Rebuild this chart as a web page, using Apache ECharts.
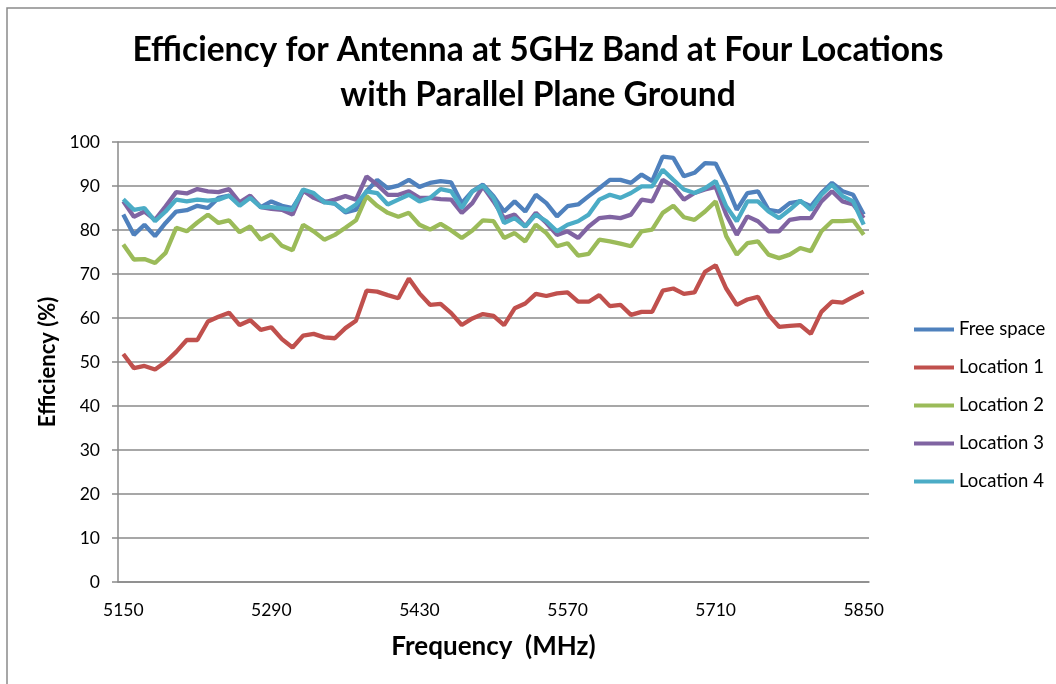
<!DOCTYPE html>
<html>
<head>
<meta charset="utf-8">
<script src="https://cdn.jsdelivr.net/npm/echarts@6/dist/echarts.min.js"></script>
<style>
  html, body { margin: 0; padding: 0; background: #fff; }
  #chart { width: 1056px; height: 684px; }
</style>
</head>
<body>
<div id="chart"></div>
<script>
// frequency categories (MHz)
var frequencies = ['5150','5160','5170','5180','5190','5200','5210','5220','5230','5240',
  '5250','5260','5270','5280','5290','5300','5310','5320','5330','5340',
  '5350','5360','5370','5380','5390','5400','5410','5420','5430','5440',
  '5450','5460','5470','5480','5490','5500','5510','5520','5530','5540',
  '5550','5560','5570','5580','5590','5600','5610','5620','5630','5640',
  '5650','5660','5670','5680','5690','5700','5710','5720','5730','5740',
  '5750','5760','5770','5780','5790','5800','5810','5820','5830','5840','5850'];

var freeSpace = [83.5, 78.9, 81.2, 78.6, 81.6, 84.2, 84.5, 85.5, 85.0, 87.3,
  87.8, 86.0, 87.5, 85.2, 86.5, 85.5, 85.0, 88.8, 88.0, 86.5,
  86.0, 84.0, 84.6, 88.8, 91.4, 89.5, 90.1, 91.4, 89.8, 90.7,
  91.1, 90.8, 86.1, 88.8, 90.3, 87.7, 84.2, 86.5, 84.2, 88.0,
  86.1, 83.1, 85.4, 85.8, 87.7, 89.5, 91.4, 91.4, 90.7, 92.6,
  91.1, 96.7, 96.4, 92.2, 93.0, 95.2, 95.1, 90.3, 84.6, 88.4,
  88.8, 84.6, 84.2, 86.1, 86.5, 85.4, 88.4, 90.7, 88.8, 88.0, 83.5];

var location1 = [51.8, 48.6, 49.1, 48.3, 50.0, 52.3, 55.0, 55.0, 59.2, 60.3,
  61.2, 58.4, 59.5, 57.3, 57.9, 55.2, 53.3, 56.0, 56.4, 55.6,
  55.4, 57.7, 59.4, 66.2, 66.0, 65.2, 64.5, 69.0, 65.6, 63.0,
  63.2, 61.1, 58.4, 59.9, 60.9, 60.5, 58.4, 62.2, 63.3, 65.5,
  65.0, 65.6, 65.8, 63.7, 63.7, 65.2, 62.7, 63.0, 60.7, 61.4,
  61.4, 66.2, 66.7, 65.5, 65.8, 70.5, 72.0, 66.7, 63.0, 64.2,
  64.8, 60.7, 58.0, 58.2, 58.4, 56.4, 61.4, 63.7, 63.5, 64.8, 66.0];

var location2 = [76.7, 73.3, 73.4, 72.5, 74.8, 80.5, 79.7, 81.7, 83.5, 81.6,
  82.2, 79.5, 80.8, 77.8, 79.0, 76.4, 75.4, 81.2, 79.7, 77.8,
  78.9, 80.5, 82.2, 87.7, 85.5, 83.9, 83.0, 83.9, 81.2, 80.1,
  81.4, 79.9, 78.2, 79.9, 82.2, 82.0, 78.2, 79.3, 77.4, 81.2,
  79.3, 76.3, 77.0, 74.2, 74.6, 77.8, 77.4, 76.9, 76.3, 79.7,
  80.1, 83.9, 85.5, 82.9, 82.3, 84.2, 86.5, 78.6, 74.4, 77.0,
  77.4, 74.4, 73.6, 74.4, 75.9, 75.2, 79.7, 82.0, 82.0, 82.2, 78.9];

var location3 = [86.5, 83.0, 84.2, 82.3, 85.4, 88.6, 88.3, 89.3, 88.8, 88.6,
  89.3, 86.3, 87.8, 85.2, 84.8, 84.6, 83.5, 89.0, 87.3, 86.3,
  86.9, 87.7, 86.9, 92.2, 90.3, 88.0, 88.0, 88.8, 87.3, 87.3,
  87.0, 86.9, 83.9, 86.1, 89.9, 86.5, 82.7, 83.5, 80.8, 83.9,
  81.6, 78.9, 79.7, 78.2, 80.8, 82.7, 83.0, 82.7, 83.5, 86.9,
  86.5, 91.4, 89.9, 86.9, 88.4, 89.2, 89.8, 83.5, 78.9, 83.1,
  82.0, 79.7, 79.7, 82.3, 82.7, 82.7, 86.5, 88.8, 86.5, 85.8, 82.7];

var location4 = [87.0, 84.6, 85.0, 82.0, 84.2, 86.9, 86.5, 86.9, 86.7, 86.9,
  87.8, 85.5, 87.3, 85.2, 85.2, 84.9, 84.6, 89.2, 88.4, 86.3,
  86.0, 84.2, 85.8, 88.8, 88.4, 85.8, 86.9, 88.0, 86.5, 87.3,
  89.3, 88.8, 85.0, 88.8, 90.1, 87.3, 81.6, 82.7, 80.8, 83.5,
  82.0, 79.7, 81.2, 82.0, 83.5, 86.9, 88.0, 87.3, 88.4, 89.9,
  89.9, 93.7, 91.4, 89.2, 88.4, 89.5, 91.1, 85.4, 82.0, 86.5,
  86.5, 84.2, 82.7, 84.6, 86.7, 84.6, 88.0, 90.3, 87.7, 86.5, 81.2];

var seriesNames = ['Free space', 'Location 1', 'Location 2', 'Location 3', 'Location 4'];
var seriesColors = ['#4F81BD', '#C0504D', '#9BBB59', '#8064A2', '#4BACC6'];
var seriesValues = [freeSpace, location1, location2, location3, location4];

var font = 'Lato, "Open Sans", sans-serif';

var series = [];
seriesNames.forEach(function (name, i) {
  series.push({
    name: name,
    type: 'line',
    data: seriesValues[i],
    symbol: 'none',
    smooth: false,
    lineStyle: { width: 4.3, color: seriesColors[i] },
    itemStyle: { color: seriesColors[i] },
    animation: false
  });
});

var myChart = echarts.init(document.getElementById('chart'), null, { renderer: 'canvas' });
myChart.setOption({
  animation: false,
  backgroundColor: '#fff',
  title: {
    text: 'Efficiency for Antenna at 5GHz Band at Four Locations\nwith Parallel Plane Ground',
    left: 533,
    top: 23,
    textAlign: 'center',
    textStyle: {
      fontFamily: font,
      fontWeight: 'bold',
      fontSize: 33.5,
      lineHeight: 45,
      color: '#000'
    }
  },
  graphic: [{
    type: 'rect',
    shape: { x: 7, y: 8, width: 1200, height: 800 },
    style: { fill: 'none', stroke: '#8a8a8a', lineWidth: 1.5 },
    silent: true,
    z: -1
  }],
  legend: {
    orient: 'vertical',
    left: 909,
    top: 315,
    itemWidth: 40,
    itemHeight: 4,
    itemGap: 19,
    icon: 'rect',
    data: seriesNames,
    textStyle: { fontFamily: font, fontSize: 18.5, color: '#000' }
  },
  grid: {
    left: 118,
    right: 187,
    top: 142,
    bottom: 102
  },
  xAxis: {
    type: 'category',
    data: frequencies,
    boundaryGap: true,
    name: 'Frequency  (MHz)',
    nameLocation: 'middle',
    nameGap: 52,
    nameTextStyle: { fontFamily: font, fontWeight: 'bold', fontSize: 26, color: '#000' },
    axisLine: { lineStyle: { color: '#8a8a8a', width: 1.5 } },
    axisTick: { show: false },
    axisLabel: {
      interval: 13,
      margin: 19,
      fontFamily: font,
      fontSize: 17.5,
      color: '#000'
    },
    splitLine: { show: false }
  },
  yAxis: {
    type: 'value',
    min: 0,
    max: 100,
    interval: 10,
    name: 'Efficiency (%)',
    nameLocation: 'middle',
    nameGap: 59,
    nameTextStyle: { fontFamily: font, fontWeight: 'bold', fontSize: 22, color: '#000' },
    axisLine: { show: true, lineStyle: { color: '#8a8a8a', width: 1.5 } },
    axisTick: { show: true, length: 6, lineStyle: { color: '#8a8a8a', width: 1.5 } },
    axisLabel: {
      margin: 18,
      fontFamily: font,
      fontSize: 17.5,
      color: '#000'
    },
    splitLine: { lineStyle: { color: '#8a8a8a', width: 1.5 } }
  },
  series: series
});
</script>
</body>
</html>
